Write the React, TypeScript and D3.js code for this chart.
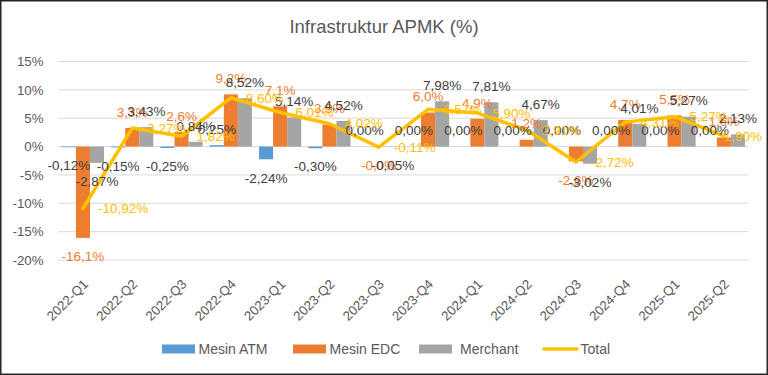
import React from "react";
import * as d3 from "d3";

const categories = ["2022-Q1","2022-Q2","2022-Q3","2022-Q4","2023-Q1","2023-Q2","2023-Q3","2023-Q4","2024-Q1","2024-Q2","2024-Q3","2024-Q4","2025-Q1","2025-Q2"];
const mesinATM = [-0.12,-0.15,-0.25,0.25,-2.24,-0.30,0,0,0,0,0,0,0,0];
const mesinEDC = [-16.1,3.3,2.6,9.2,7.1,3.9,-0.04,6.0,4.9,1.2,-2.6,4.7,5.5,1.6];
const merchant = [-2.87,3.43,0.84,8.52,5.14,4.52,-0.05,7.98,7.81,4.67,-3.02,4.01,5.27,2.13];
const total = [-10.92,3.27,1.82,8.60,6.01,4.02,-0.11,6.57,5.90,2.91,-2.72,4.31,5.27,1.90];
const yTicks = [-20,-15,-10,-5,0,5,10,15];

const W = 768, H = 375;
const FONT = "'Liberation Sans', Arial, sans-serif";
const C_ATM = "#5B9BD5", C_EDC = "#ED7D31", C_MER = "#A5A5A5", C_TOT = "#FFC000";
const C_TXT = "#595959", C_LBL = "#404040";

const fmt = (v: number, d: number) => v.toFixed(d).replace(".", ",") + "%";

export default function App() {
  const x = d3.scaleBand<string>().domain(categories).range([58.3, 748.5]).padding(0);
  const y = d3.scaleLinear().domain([-20, 15]).range([260, 61.5]);
  const bw = x.bandwidth() * 0.285;
  const groupOff = (x.bandwidth() - 3 * bw) / 2;
  const x1 = d3.scaleBand<string>().domain(["atm","edc","mer"]).range([0, 3 * bw]);
  const series = [
    { key: "atm", vals: mesinATM, color: C_ATM, lbl: C_LBL, dec: 2 },
    { key: "edc", vals: mesinEDC, color: C_EDC, lbl: C_EDC, dec: 1 },
    { key: "mer", vals: merchant, color: C_MER, lbl: C_LBL, dec: 2 },
  ];
  const cx = (c: string) => (x(c) as number) + x.bandwidth() / 2;
  const line = d3.line<number>().x((_, i) => cx(categories[i])).y(d => y(d));

  const legend = [
    { name: "Mesin ATM", color: C_ATM, sx: 162, tx: 198.5, type: "rect" },
    { name: "Mesin EDC", color: C_EDC, sx: 293, tx: 329.5, type: "rect" },
    { name: "Merchant", color: C_MER, sx: 419, tx: 460, type: "rect" },
    { name: "Total", color: C_TOT, sx: 544, tx: 580.5, type: "line" },
  ];
  const rightLimit = 762;

  return (
    <svg width={W} height={H} style={{ position: "fixed", left: 0, top: 0, background: "#fff" }} fontFamily={FONT}>
      <rect x={0.75} y={0.75} width={W - 1.5} height={H - 1.5} fill="#fff" stroke="#262626" strokeWidth={1.5} />
      <text x={384} y={27} dy="0.35em" textAnchor="middle" fontSize={18.5} fill={C_TXT}>Infrastruktur APMK (%)</text>
      {yTicks.map(t => (
        <g key={t}>
          <line x1={58.3} x2={748.5} y1={y(t)} y2={y(t)} stroke="#D9D9D9" strokeWidth={1} />
          <text x={43.5} y={y(t)} dy="0.35em" textAnchor="end" fontSize={13.3} fill={C_TXT}>{t + "%"}</text>
        </g>
      ))}
      {series.map(s => (
        <g key={s.key}>
          {s.vals.map((v, i) => {
            const bx = (x(categories[i]) as number) + groupOff + (x1(s.key) as number);
            return <rect key={i} x={bx} width={bw} y={Math.min(y(v), y(0))} height={Math.abs(y(v) - y(0))} fill={s.color} />;
          })}
        </g>
      ))}
      <path d={line(total) || ""} fill="none" stroke={C_TOT} strokeWidth={3.5} strokeLinejoin="round" strokeLinecap="round" />
      {series.map(s => (
        <g key={s.key + "l"}>
          {s.vals.map((v, i) => {
            const bx = (x(categories[i]) as number) + groupOff + (x1(s.key) as number) + bw / 2;
            const ly = v >= 0 ? y(v) - 16 : y(v) + 18.5;
            return <text key={i} x={bx} y={ly} dy="0.35em" textAnchor="middle" fontSize={13.5} fill={s.lbl}>{fmt(v, s.dec)}</text>;
          })}
        </g>
      ))}
      {total.map((v, i) => {
        const s = fmt(v, 2);
        const est = s.length * 7.5;
        const start = cx(categories[i]) + 15;
        const fits = start + est <= rightLimit;
        return (
          <text key={i} x={fits ? start : rightLimit} y={y(v)} dy="0.35em" textAnchor={fits ? "start" : "end"} fontSize={13.5} fill={C_TOT}>{s}</text>
        );
      })}
      {categories.map(c => (
        <text key={c} transform={`translate(${cx(c) + 6},${285}) rotate(-45)`} textAnchor="end" fontSize={13.3} fill={C_TXT}>{c}</text>
      ))}
      {legend.map(l => (
        <g key={l.name}>
          {l.type === "rect"
            ? <rect x={l.sx} y={344.5} width={33} height={9} fill={l.color} />
            : <line x1={l.sx} x2={l.sx + 33} y1={349} y2={349} stroke={l.color} strokeWidth={3.5} strokeLinecap="round" />}
          <text x={l.tx} y={349} dy="0.35em" fontSize={14} fill={C_TXT}>{l.name}</text>
        </g>
      ))}
    </svg>
  );
}
